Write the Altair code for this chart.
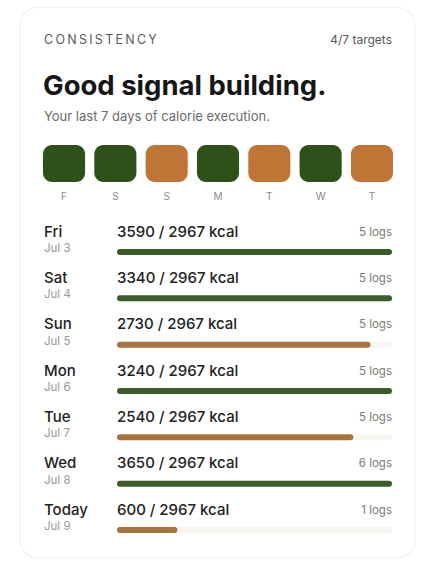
import altair as alt
import pandas as pd

# ---- data ----
days = ["Fri", "Sat", "Sun", "Mon", "Tue", "Wed", "Today"]
dates = ["Jul 3", "Jul 4", "Jul 5", "Jul 6", "Jul 7", "Jul 8", "Jul 9"]
initials = ["F", "S", "S", "M", "T", "W", "T"]
kcal = [3590, 3340, 2730, 3240, 2540, 3650, 600]
logs = [5, 5, 5, 5, 5, 6, 1]
target = 2967

title_label = "CONSISTENCY"
targets_hit = sum(1 for v in kcal if v >= target)
headline = "Good signal building."
subtitle = "Your last 7 days of calorie execution."

FONT = "Inter"
GREEN_SQ = "#2d5119"
ORANGE_SQ = "#bf7535"
GREEN_BAR = "#3a5c28"
ORANGE_BAR = "#a8733f"

df = pd.DataFrame({
    "row": list(range(7)),
    "day": days,
    "date": dates,
    "initial": initials,
    "kcal": kcal,
    "logs": logs,
})
df["frac"] = (df["kcal"] / target).clip(upper=1.0)
df["hit"] = df["kcal"] >= target
df["kcal_label"] = df["kcal"].astype(str) + " / " + str(target) + " kcal"
df["logs_label"] = df["logs"].astype(str) + " logs"
df["zero"] = 0.0
df["one"] = 1.0
df["col"] = [f"{i}" for i in range(7)]

hit_color = alt.Color("hit:N", scale=alt.Scale(domain=[True, False], range=[GREEN_SQ, ORANGE_SQ]), legend=None)
bar_color = alt.Color("hit:N", scale=alt.Scale(domain=[True, False], range=[GREEN_BAR, ORANGE_BAR]), legend=None)

one = pd.DataFrame({"k": [0]})

card = alt.Chart(one).mark_rect(cornerRadius=18, fill="white", stroke="#f4f1e8", strokeWidth=1.2).encode(
    x=alt.value(20), x2=alt.value(415), y=alt.value(7.5), y2=alt.value(558)
)

hdr = alt.Chart(one).mark_text(
    align="left", baseline="middle", font=FONT, fontSize=12.5, color="#5a5a5a"
).encode(x=alt.value(44), y=alt.value(40), text=alt.value("\u2009".join(list(title_label))))

tgt = alt.Chart(one).mark_text(
    align="right", baseline="middle", font=FONT, fontSize=12, color="#555555"
).encode(x=alt.value(392), y=alt.value(40), text=alt.value(f"{targets_hit}/7 targets"))

head = alt.Chart(one).mark_text(
    align="left", baseline="alphabetic", font=FONT, fontSize=27.5, fontWeight="bold", color="#161616"
).encode(x=alt.value(43), y=alt.value(95), text=alt.value(headline))

sub = alt.Chart(one).mark_text(
    align="left", baseline="middle", font=FONT, fontSize=13, color="#6b6b6b"
).encode(x=alt.value(44), y=alt.value(117), text=alt.value(subtitle))

sq_scale = alt.Scale(range=[43, 393], paddingInner=0.18, paddingOuter=0)

squares = alt.Chart(df).mark_rect(cornerRadius=9).encode(
    x=alt.X("col:O", scale=sq_scale, axis=None), y=alt.value(145), y2=alt.value(182), color=hit_color
)

sq_labels = alt.Chart(df).mark_text(
    baseline="middle", font=FONT, fontSize=10, color="#8a8a8a"
).encode(x=alt.X("col:O", scale=sq_scale, axis=None, bandPosition=0.5),
         y=alt.value(197), text="initial:N")

row_y_text = alt.Y("row:Q", scale=alt.Scale(domain=[0, 6], range=[231.5, 509.5]), axis=None)
row_y_bar = alt.Y("row:Q", scale=alt.Scale(domain=[0, 6], range=[252, 530]), axis=None)

bx = alt.Scale(domain=[0, 1], range=[120, 389])

track = alt.Chart(df).mark_rule(strokeWidth=6, strokeCap="round", color="#f8f6f1").encode(
    x=alt.X("zero:Q", scale=bx, axis=None), x2="one:Q", y=row_y_bar
)
bars = alt.Chart(df).mark_rule(strokeWidth=6, strokeCap="round").encode(
    x=alt.X("zero:Q", scale=bx, axis=None), x2="frac:Q", y=row_y_bar, color=bar_color
)

day_t = alt.Chart(df).mark_text(align="left", baseline="middle", font=FONT, fontSize=15,
                                fontWeight=500, color="#222222").encode(
    x=alt.value(44), y=row_y_text, text="day:N")
date_t = alt.Chart(df).mark_text(align="left", baseline="middle", font=FONT, fontSize=11.5,
                                 color="#999999", dy=17.5).encode(
    x=alt.value(44), y=row_y_text, text="date:N")
kcal_t = alt.Chart(df).mark_text(align="left", baseline="middle", font=FONT, fontSize=15,
                                 fontWeight=500, color="#222222").encode(
    x=alt.value(117), y=row_y_text, text="kcal_label:N")
logs_t = alt.Chart(df).mark_text(align="right", baseline="middle", font=FONT, fontSize=11.5,
                                 color="#7a7a7a", dy=1).encode(
    x=alt.value(392), y=row_y_text, text="logs_label:N")

top = alt.layer(card, hdr, tgt, head, sub)
sq = alt.layer(squares, sq_labels)
rows_text = alt.layer(day_t, date_t, kcal_t, logs_t)
rows_bar = alt.layer(track, bars)

chart = alt.layer(top, sq, rows_bar, rows_text).resolve_scale(
    x="independent", y="independent", color="independent"
).properties(
    width=437, height=571, padding=0, autosize=alt.AutoSizeParams(type="none"),
    background="white"
).configure_view(stroke=None)

chart.save("out.html", embed_options={"renderer": "svg", "actions": False})
